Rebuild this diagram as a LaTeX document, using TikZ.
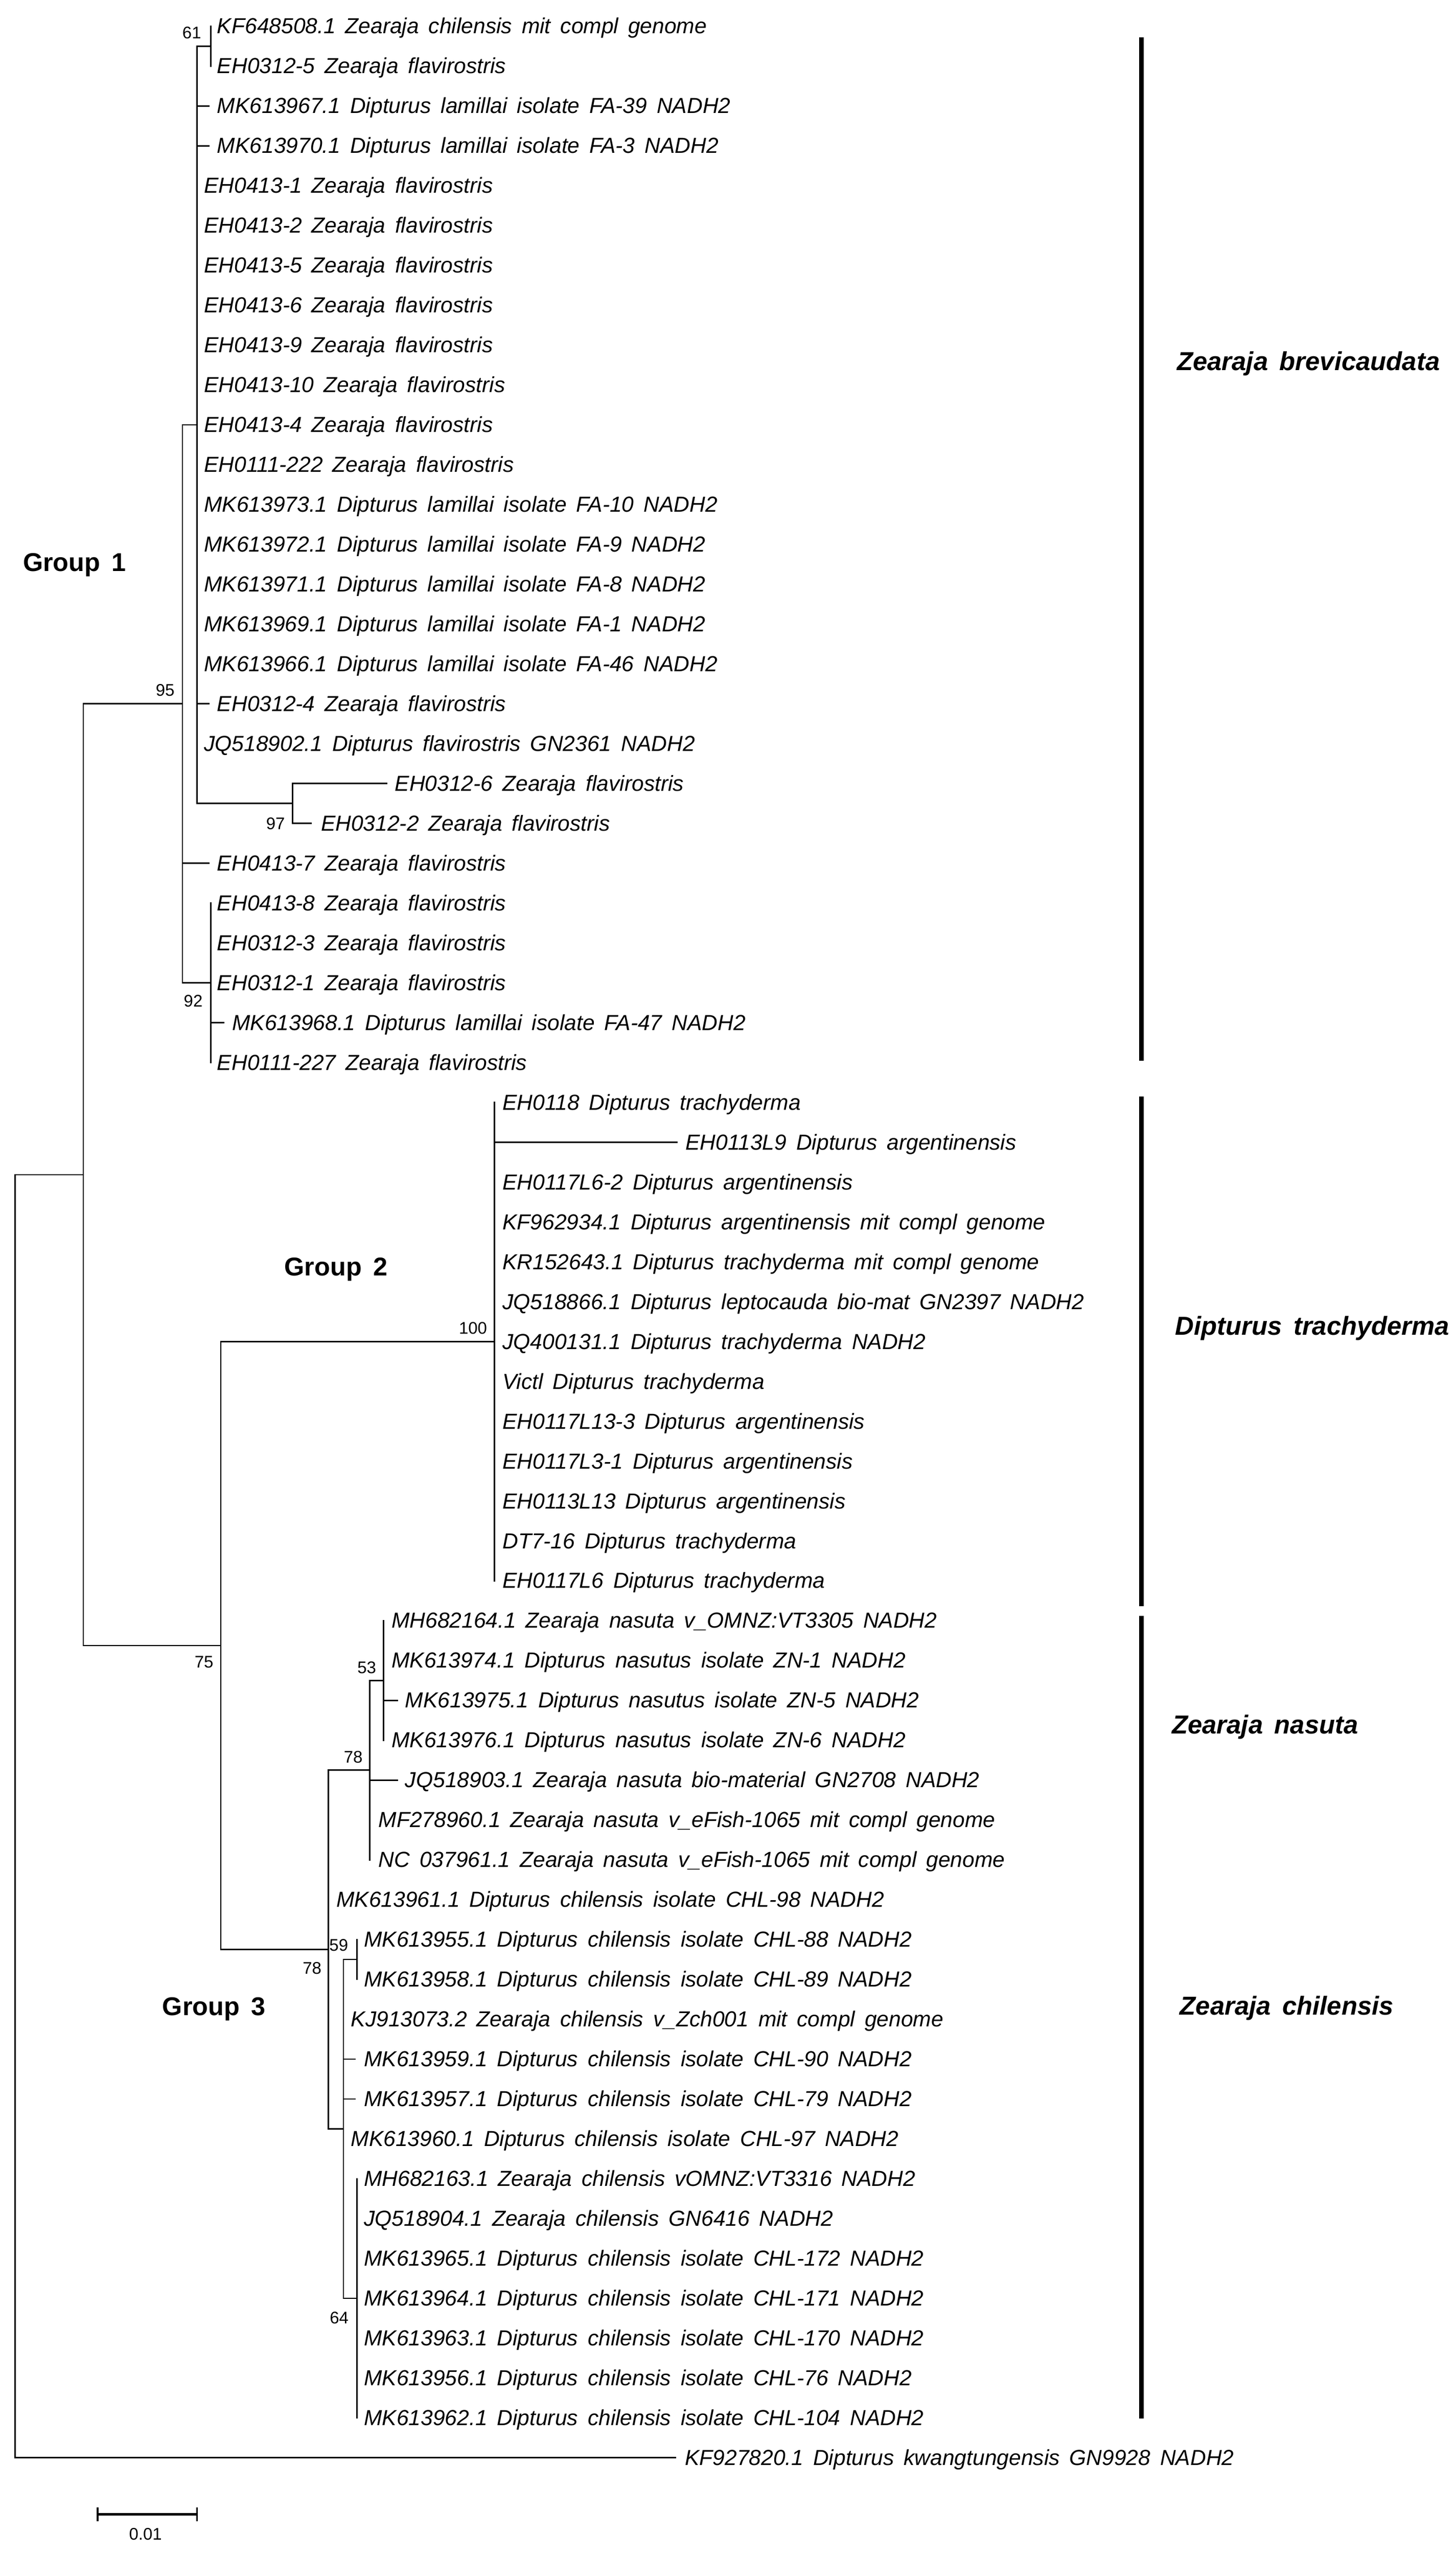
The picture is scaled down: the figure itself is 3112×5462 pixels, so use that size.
\documentclass[tikz,border=0pt]{standalone}
\usepackage{fontspec}
\setmainfont{Liberation Sans}[WordSpace=1.6]
\newcommand\rw[1]{56+85.18*#1}
\newcommand\lf[4]{\coordinate (t#1) at (#2,{\rw{#1}}); \node[leaf] (L#1) at (#3,{\rw{#1}+16}) {#4};}
\begin{document}
\begin{tikzpicture}[x=1pt,y=-1pt,
  br/.style={line width=3pt,line cap=rect},
  leaf/.style={anchor=base west,inner sep=0pt,font=\fontsize{46.5}{50}\selectfont\itshape},
  boot/.style={anchor=center,inner sep=0pt,font=\fontsize{36}{40}\selectfont},
  grp/.style={anchor=west,inner sep=0pt,font=\fontsize{55}{60}\selectfont\bfseries},
  sp/.style={anchor=west,inner sep=0pt,font=\fontsize{55.5}{60}\selectfont\bfseries\itshape},
  bar/.style={line width=10pt}]
\useasboundingbox[fill=white] (0,0) rectangle (3112,5462);
% ---------- leaves
\lf{0}{451}{464}{KF648508.1 Zearaja chilensis mit compl genome}
\lf{1}{451}{464}{EH0312-5 Zearaja flavirostris}
\lf{2}{446}{464}{MK613967.1 Dipturus lamillai isolate FA-39 NADH2}
\lf{3}{446}{464}{MK613970.1 Dipturus lamillai isolate FA-3 NADH2}
\lf{4}{421}{436}{EH0413-1 Zearaja flavirostris}
\lf{5}{421}{436}{EH0413-2 Zearaja flavirostris}
\lf{6}{421}{436}{EH0413-5 Zearaja flavirostris}
\lf{7}{421}{436}{EH0413-6 Zearaja flavirostris}
\lf{8}{421}{436}{EH0413-9 Zearaja flavirostris}
\lf{9}{421}{436}{EH0413-10 Zearaja flavirostris}
\lf{10}{421}{436}{EH0413-4 Zearaja flavirostris}
\lf{11}{421}{436}{EH0111-222 Zearaja flavirostris}
\lf{12}{421}{436}{MK613973.1 Dipturus lamillai isolate FA-10 NADH2}
\lf{13}{421}{436}{MK613972.1 Dipturus lamillai isolate FA-9 NADH2}
\lf{14}{421}{436}{MK613971.1 Dipturus lamillai isolate FA-8 NADH2}
\lf{15}{421}{436}{MK613969.1 Dipturus lamillai isolate FA-1 NADH2}
\lf{16}{421}{436}{MK613966.1 Dipturus lamillai isolate FA-46 NADH2}
\lf{17}{446}{464}{EH0312-4 Zearaja flavirostris}
\lf{18}{421}{436}{JQ518902.1 Dipturus flavirostris GN2361 NADH2}
\lf{19}{826}{844}{EH0312-6 Zearaja flavirostris}
\lf{20}{665}{686}{EH0312-2 Zearaja flavirostris}
\lf{21}{446}{464}{EH0413-7 Zearaja flavirostris}
\lf{22}{451}{464}{EH0413-8 Zearaja flavirostris}
\lf{23}{451}{464}{EH0312-3 Zearaja flavirostris}
\lf{24}{451}{464}{EH0312-1 Zearaja flavirostris}
\lf{25}{478}{496}{MK613968.1 Dipturus lamillai isolate FA-47 NADH2}
\lf{26}{451}{464}{EH0111-227 Zearaja flavirostris}
\lf{27}{1057}{1074}{EH0118 Dipturus trachyderma}
\lf{28}{1447}{1465}{EH0113L9 Dipturus argentinensis}
\lf{29}{1057}{1074}{EH0117L6-2 Dipturus argentinensis}
\lf{30}{1057}{1074}{KF962934.1 Dipturus argentinensis mit compl genome}
\lf{31}{1057}{1074}{KR152643.1 Dipturus trachyderma mit compl genome}
\lf{32}{1057}{1074}{JQ518866.1 Dipturus leptocauda bio-mat GN2397 NADH2}
\lf{33}{1057}{1074}{JQ400131.1 Dipturus trachyderma NADH2}
\lf{34}{1057}{1074}{Victl Dipturus trachyderma}
\lf{35}{1057}{1074}{EH0117L13-3 Dipturus argentinensis}
\lf{36}{1057}{1074}{EH0117L3-1 Dipturus argentinensis}
\lf{37}{1057}{1074}{EH0113L13 Dipturus argentinensis}
\lf{38}{1057}{1074}{DT7-16 Dipturus trachyderma}
\lf{39}{1057}{1074}{EH0117L6 Dipturus trachyderma}
\lf{40}{820}{837}{MH682164.1 Zearaja nasuta v\_OMNZ:VT3305 NADH2}
\lf{41}{820}{837}{MK613974.1 Dipturus nasutus isolate ZN-1 NADH2}
\lf{42}{849}{866}{MK613975.1 Dipturus nasutus isolate ZN-5 NADH2}
\lf{43}{820}{837}{MK613976.1 Dipturus nasutus isolate ZN-6 NADH2}
\lf{44}{849}{866}{JQ518903.1 Zearaja nasuta bio-material GN2708 NADH2}
\lf{45}{790}{809}{MF278960.1 Zearaja nasuta v\_eFish-1065 mit compl genome}
\lf{46}{790}{809}{NC 037961.1 Zearaja nasuta v\_eFish-1065 mit compl genome}
\lf{47}{702}{719}{MK613961.1 Dipturus chilensis isolate CHL-98 NADH2}
\lf{48}{763}{778}{MK613955.1 Dipturus chilensis isolate CHL-88 NADH2}
\lf{49}{763}{778}{MK613958.1 Dipturus chilensis isolate CHL-89 NADH2}
\lf{50}{734}{750}{KJ913073.2 Zearaja chilensis v\_Zch001 mit compl genome}
\lf{51}{759}{778}{MK613959.1 Dipturus chilensis isolate CHL-90 NADH2}
\lf{52}{759}{778}{MK613957.1 Dipturus chilensis isolate CHL-79 NADH2}
\lf{53}{734}{750}{MK613960.1 Dipturus chilensis isolate CHL-97 NADH2}
\lf{54}{763}{778}{MH682163.1 Zearaja chilensis vOMNZ:VT3316 NADH2}
\lf{55}{763}{778}{JQ518904.1 Zearaja chilensis GN6416 NADH2}
\lf{56}{763}{778}{MK613965.1 Dipturus chilensis isolate CHL-172 NADH2}
\lf{57}{763}{778}{MK613964.1 Dipturus chilensis isolate CHL-171 NADH2}
\lf{58}{763}{778}{MK613963.1 Dipturus chilensis isolate CHL-170 NADH2}
\lf{59}{763}{778}{MK613956.1 Dipturus chilensis isolate CHL-76 NADH2}
\lf{60}{763}{778}{MK613962.1 Dipturus chilensis isolate CHL-104 NADH2}
\lf{61}{1444}{1464}{KF927820.1 Dipturus kwangtungensis GN9928 NADH2}
% ---------- internal nodes
\coordinate (n61) at (451,{\rw{0.5}});
\coordinate (n97) at (625,{\rw{19.5}});
\coordinate (nA) at (421,907.8);
\coordinate (n92) at (451,{\rw{24}});
\coordinate (n95) at (390,1504.0);
\coordinate (n100) at (1057,{\rw{33}});
\coordinate (n53) at (820,{\rw{41.5}});
\coordinate (n78b) at (790,3782.6);
\coordinate (n59) at (763,{\rw{48.5}});
\coordinate (n64) at (763,{\rw{57}});
\coordinate (nC) at (734,4549.2);
\coordinate (n78a) at (702,4165.9);
\coordinate (n75) at (472,3516.4);
\coordinate (nB) at (178,2510.2);
\coordinate (root) at (32,3881);
% ---------- branches
\draw[br] (n61 |- t0) -- (n61 |- t1);
\draw[br] (nA |- n61) -- (n61);
\draw[br] (nA |- n61) -- (nA |- n97);
\foreach \i in {2,3,17} \draw[br] (nA |- t\i) -- (t\i);
\draw[br] (nA |- n97) -- (n97);
\draw[br] (n97 |- t19) -- (n97 |- t20);
\draw[br] (n97 |- t19) -- (t19);
\draw[br] (n97 |- t20) -- (t20);
\draw[br] (n92 |- t22) -- (n92 |- t26);
\draw[br] (n92 |- t25) -- (t25);
\draw[br] (n95 |- nA) -- (n95 |- n92);
\draw[br] (n95 |- nA) -- (nA);
\draw[br] (n95 |- t21) -- (t21);
\draw[br] (n95 |- n92) -- (n92);
\draw[br] (nB |- n95) -- (n95);
\draw[br] (nB |- n95) -- (nB |- n75);
\draw[br] (nB |- n75) -- (n75);
\draw[br] (n75 |- n100) -- (n75 |- n78a);
\draw[br] (n75 |- n100) -- (n100);
\draw[br] (n75 |- n78a) -- (n78a);
\draw[br] (n100 |- t27) -- (n100 |- t39);
\draw[br] (n100 |- t28) -- (t28);
\draw[br] (n78a |- n78b) -- (n78a |- nC);
\draw[br] (n78a |- n78b) -- (n78b);
\draw[br] (n78a |- nC) -- (nC);
\draw[br] (n78b |- n53) -- (n78b |- t46);
\draw[br] (n78b |- n53) -- (n53);
\draw[br] (n78b |- t44) -- (t44);
\draw[br] (n53 |- t40) -- (n53 |- t43);
\draw[br] (n53 |- t42) -- (t42);
\draw[br] (nC |- n59) -- (nC |- n64);
\draw[br] (nC |- n59) -- (n59);
\draw[br] (nC |- n64) -- (n64);
\foreach \i in {51,52} \draw[br] (nC |- t\i) -- (t\i);
\draw[br] (n59 |- t48) -- (n59 |- t49);
\draw[br] (n64 |- t54) -- (n64 |- t60);
\draw[br] (root |- nB) -- (nB);
\draw[br] (root |- nB) -- (root |- t61);
\draw[br] (root |- t61) -- (t61);
% ---------- bootstrap values
\node[boot] (b61) at (410,70) {61};
\node[boot] (b95) at (353,1475) {95};
\node[boot] (b97) at (589,1760) {97};
\node[boot] (b92) at (413,2139) {92};
\node[boot] (b100) at (1011,2838) {100};
\node[boot] (b75) at (436,3552) {75};
\node[boot] (b53) at (784,3563) {53};
\node[boot] (b78b) at (755,3755) {78};
\node[boot] (b59) at (724,4157) {59};
\node[boot] (b78a) at (667,4206) {78};
\node[boot] (b64) at (725,4953) {64};
% ---------- group labels
\node[grp] (g1) at (49,1207) {Group 1};
\node[grp] (g2) at (608,2713) {Group 2};
\node[grp] (g3) at (347,4293) {Group 3};
% ---------- species bars
\coordinate (s1a) at (2440,80); \coordinate (s1b) at (2440,2267);
\coordinate (s2a) at (2440,2343); \coordinate (s2b) at (2440,3432);
\coordinate (s3a) at (2440,3453); \coordinate (s3b) at (2440,5168);
\draw[bar] (s1a) -- (s1b);
\draw[bar] (s2a) -- (s2b);
\draw[bar] (s3a) -- (s3b);
\node[sp] (z1) at (2516,777) {Zearaja brevicaudata};
\node[sp] (z2) at (2512,2838) {Dipturus trachyderma};
\node[sp] (z3) at (2505,3690) {Zearaja nasuta};
\node[sp] (z4) at (2522,4291) {Zearaja chilensis};
% ---------- scale bar
\coordinate (sa) at (209,5373); \coordinate (sb) at (421,5373);
\draw[line width=5pt] (sa) -- (sb);
\draw[line width=4pt] ([yshift=-15pt]sa) -- ([yshift=15pt]sa);
\draw[line width=4pt] ([yshift=-15pt]sb) -- ([yshift=15pt]sb);
\node[boot] (sl) at (311,5415) {0.01};
\end{tikzpicture}
\end{document}
